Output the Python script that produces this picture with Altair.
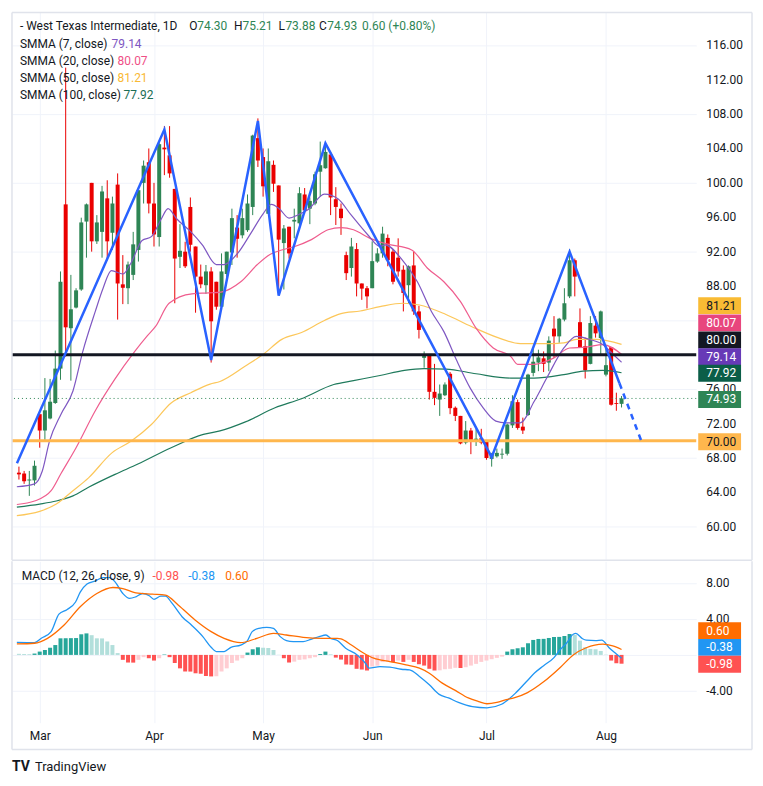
import altair as alt
import pandas as pd

# ---------------- data ----------------
opens = [66.3, 66.2, 65.4, 65.4, 73.1, 71.2, 72.6, 74.4, 78.4, 97.5,
         83.1, 85.5, 87.6, 95.5, 100.0, 93.2, 94.3, 98.2, 94.2, 99.8,
         88.2, 87.75, 89.3, 92.2, 100.0, 102.4, 97.6, 93.7, 104.1, 103.2,
         99.3, 91.4, 92.0, 97.2, 92.6, 89.1, 88.1, 89.7, 88.5, 85.6,
         89.4, 91.9, 94.8, 93.9, 94.5, 97.2, 105.2, 103.0, 96.4, 102.1,
         99.7, 93.0, 94.9, 95.5, 95.3, 98.65, 97.0, 97.6, 101.3, 101.7,
         103.3, 98.1, 97.0, 91.6, 90.1, 92.3, 88.3, 87.75, 87.75, 90.85,
         91.8, 93.6, 92.0, 91.3, 89.9, 88.1, 90.4, 85.05, 79.65, 80.0,
         75.7, 74.8, 75.3, 77.8, 73.85, 72.9, 69.8, 71.2, 70.1, 70.3,
         69.9, 67.9, 68.2, 68.4, 68.5, 71.8, 74.5, 71.65, 73.0, 77.9,
         79.1, 79.6, 79.1, 83.05, 82.15, 84.1, 86.8, 91.0, 83.8, 81.0,
         78.95, 83.4, 81.95, 77.7, 80.9, 74.4, 74.30]
highs = [67.0, 66.5, 66.5, 67.7, 73.1, 77.3, 77.2, 80.5, 89.7, 113.4,
         89.3, 87.75, 95.95, 97.6, 100.0, 96.25, 99.65, 100.3, 98.4, 101.1,
         91.6, 90.85, 94.3, 99.3, 102.6, 104.0, 100.0, 104.7, 106.6, 106.6,
         99.3, 95.2, 93.15, 98.3, 92.6, 90.5, 90.45, 90.2, 88.5, 91.8,
         92.0, 97.0, 96.25, 97.0, 98.65, 105.6, 107.5, 104.0, 104.0, 102.6,
         99.7, 95.1, 94.9, 97.0, 99.5, 99.4, 98.3, 101.3, 104.8, 104.75,
         103.6, 99.5, 97.6, 92.0, 93.6, 93.0, 88.3, 88.0, 93.2, 92.4,
         94.9, 94.0, 92.3, 93.55, 90.4, 90.4, 92.0, 85.7, 80.4, 80.0,
         78.95, 76.55, 76.8, 78.0, 74.0, 72.9, 72.3, 71.5, 71.35, 71.4,
         70.0, 68.6, 69.1, 69.1, 72.0, 75.3, 74.8, 72.7, 77.8, 80.7,
         80.6, 80.4, 82.15, 84.5, 84.3, 87.75, 92.3, 91.2, 85.4, 82.0,
         84.5, 84.5, 85.15, 80.7, 80.9, 75.6, 75.21]
lows = [65.5, 65.0, 63.6, 64.8, 69.2, 70.1, 72.5, 74.3, 77.1, 79.8,
        77.0, 85.4, 87.45, 91.3, 92.0, 92.9, 91.3, 91.0, 92.2, 84.1,
        85.9, 85.9, 88.7, 90.85, 97.6, 96.45, 92.6, 92.6, 100.9, 100.6,
        86.0, 90.1, 90.1, 92.0, 84.9, 87.75, 87.1, 79.1, 85.25, 85.25,
        88.9, 90.45, 91.3, 93.55, 94.3, 96.25, 101.85, 98.4, 96.4, 98.95,
        87.0, 87.6, 91.2, 93.55, 95.1, 96.45, 95.2, 97.4, 98.4, 101.65,
        96.25, 95.1, 93.95, 88.7, 89.1, 86.8, 86.4, 85.4, 87.75, 90.7,
        91.3, 90.3, 88.2, 89.1, 85.05, 86.0, 84.65, 81.9, 78.5, 74.8,
        74.15, 72.9, 75.2, 73.1, 72.3, 69.6, 69.6, 68.45, 69.4, 69.6,
        67.8, 67.0, 68.05, 67.9, 68.3, 71.5, 71.3, 70.8, 72.9, 77.5,
        78.1, 78.0, 78.1, 79.65, 81.4, 83.9, 86.6, 86.8, 80.8, 77.25,
        78.9, 82.0, 80.0, 77.5, 74.1, 73.5, 73.88]
closes = [66.1, 65.3, 65.5, 67.1, 71.2, 73.55, 74.55, 78.4, 88.5, 83.2,
          85.3, 87.5, 95.4, 97.5, 93.2, 95.4, 99.0, 93.2, 97.6, 88.3,
          87.8, 90.5, 92.85, 99.15, 102.0, 97.6, 94.0, 104.5, 103.9, 101.1,
          91.2, 92.1, 90.3, 92.8, 89.1, 88.2, 89.7, 83.9, 85.6, 89.7,
          92.0, 95.9, 93.5, 95.9, 97.6, 105.5, 102.6, 99.6, 102.5, 99.9,
          93.4, 94.7, 91.8, 95.7, 98.8, 96.8, 97.9, 101.0, 102.05, 103.6,
          98.3, 97.2, 95.9, 89.5, 92.6, 88.3, 87.7, 86.8, 90.9, 91.8,
          94.1, 91.0, 88.5, 89.7, 87.2, 90.3, 85.05, 82.9, 80.0, 75.7,
          75.0, 75.5, 76.55, 73.8, 72.9, 69.7, 71.2, 70.1, 70.25, 69.8,
          68.0, 68.4, 68.6, 68.5, 71.9, 74.6, 71.5, 71.2, 77.7, 79.2,
          79.7, 78.95, 81.65, 82.15, 84.2, 86.0, 91.0, 89.1, 80.9, 78.2,
          83.7, 82.5, 85.05, 78.8, 74.2, 74.3, 74.93]

smma7 = [(-0.4, 64.66), (3.0, 65.0), (4.5, 66.5), (5.9, 70.0), (8.1, 73.1), (10.4, 75.8),
         (12.3, 80.4), (14.7, 85.05), (16.2, 87.75), (17.8, 89.8), (20.0, 89.4), (21.5, 90.6),
         (23.7, 93.3), (25.5, 93.75), (27.4, 95.8), (28.7, 97.0), (30.4, 95.8), (33.1, 94.3),
         (35.3, 92.8), (38.0, 90.5), (39.5, 90.5), (42.1, 91.8), (44.6, 94.1), (47.0, 96.4),
         (48.6, 97.5), (50.1, 97.0), (52.0, 95.9), (53.8, 96.3), (55.7, 96.9), (58.8, 98.7),
         (61.4, 98.15), (63.9, 96.3), (67.1, 94.0), (69.5, 92.6), (70.5, 92.8), (73.7, 91.1),
         (76.7, 88.5), (79.4, 85.05), (81.8, 82.7), (84.3, 79.3), (86.9, 76.1), (89.4, 73.8),
         (91.8, 72.3), (93.7, 72.1), (96.5, 72.1), (99.2, 74.6), (101.6, 77.3), (104.9, 80.8),
         (107.3, 82.15), (109.8, 81.8), (112.4, 81.2), (114.3, 80.1), (116, 79.14)]
smma20 = [(-0.4, 62.6), (3.0, 63.0), (6.2, 64.2), (8.1, 66.2), (11.0, 69.2), (14.7, 73.5),
          (18.5, 77.2), (22.3, 80.4), (24.7, 82.2), (26.3, 83.3), (28.9, 86.0), (33.3, 87.1),
          (36.5, 87.2), (38.9, 87.3), (42.7, 88.5), (45.9, 90.5), (48.4, 91.7), (50.6, 92.2),
          (53.1, 92.6), (56.3, 93.4), (59.5, 94.55), (62.0, 94.8), (64.4, 94.55), (67.6, 93.55),
          (70.8, 92.9), (75.6, 92.2), (78.6, 90.1), (81.8, 88.5), (85.0, 86.2), (88.0, 83.1),
          (91.3, 80.8), (94.7, 79.8), (96.0, 78.9), (99.2, 78.9), (103.0, 79.65), (106.0, 80.8),
          (109.2, 80.9), (112.4, 81.2), (116, 80.07)]
smma50 = [(-0.4, 61.3), (4.0, 61.8), (7.2, 62.65), (10.4, 64.2), (13.4, 65.7), (17.9, 68.6),
          (21.7, 70.0), (25.5, 71.9), (29.3, 74.4), (33.1, 75.6), (36.8, 76.6), (38.7, 76.9),
          (43.6, 78.7), (46.9, 80.0), (50.6, 81.8), (54.4, 82.6), (58.8, 84.0), (62.0, 84.8),
          (65.7, 85.1), (69.5, 85.6), (73.9, 86.0), (77.1, 85.8), (82.2, 84.7), (87.1, 83.3),
          (92.2, 82.0), (96.5, 81.3), (101.1, 81.3), (104.9, 81.4), (107.3, 81.8), (111.1, 81.8),
          (116, 81.21)]
smma100 = [(-0.4, 62.3), (4.0, 62.65), (7.2, 63.0), (10.4, 63.6), (13.4, 64.6), (18.5, 66.1),
           (22.9, 67.3), (29.3, 69.2), (35.5, 70.75), (38.7, 71.15), (43.6, 72.2), (49.3, 73.85),
           (54.4, 74.9), (60.6, 76.55), (64.4, 77.0), (69.5, 77.6), (74.2, 78.2), (78.0, 78.4),
           (82.2, 78.35), (88.0, 77.8), (94.7, 77.3), (99.2, 77.3), (104.9, 77.7), (108.6, 78.1),
           (112.4, 78.2), (116, 77.92)]

zigzag_solid = [(-0.38, 67.4), (28, 106.2), (37, 79.4), (46, 107.2), (50, 86.9),
                (59, 104.6), (91, 68.1), (106, 92.0), (115.6, 76.7)]
zigzag_dash = [(115.6, 76.7), (119.8, 70.0)]

hist = [0.12, 0.1, 0.08, 0.15, 0.37, 0.55, 0.8, 1.1, 1.85, 1.86,
        1.87, 1.88, 2.3, 2.4, 2.2, 1.85, 1.84, 1.5, 1.1, 0.2,
        -0.55, -0.85, -0.86, -0.55, -0.25, -0.37, -0.63, -0.37, 0.05, -0.25,
        -0.9, -1.5, -1.85, -1.86, -2.05, -2.1, -2.35, -2.4, -2.38, -1.85,
        -1.5, -0.9, -0.63, -0.37, 0.26, 0.63, 0.85, 0.8, 0.78, 0.55,
        0.02, -0.37, -0.85, -0.75, -0.55, -0.5, -0.37, -0.25, 0.1, 0.37,
        0.07, -0.3, -0.52, -1.07, -1.1, -1.55, -1.63, -1.74, -1.3, -1.2,
        -0.8, -0.74, -0.8, -0.63, -0.78, -0.55, -0.78, -1.04, -1.19, -1.55,
        -1.74, -1.72, -1.6, -1.55, -1.44, -1.46, -1.37, -1.19, -1.0, -0.78,
        -0.63, -0.48, -0.33, -0.19, 0.37, 0.63, 0.74, 0.85, 1.3, 1.67,
        1.78, 1.79, 1.89, 2.0, 2.01, 2.11, 2.33, 2.22, 1.59, 0.85,
        0.67, 0.63, 0.44, 0.03, -0.63, -0.93, -0.98]

macd_line = [(-0.4, 1.4), (3, 1.37), (4.3, 1.85), (6.2, 2.6), (7.7, 4.55), (9.3, 5.07),
             (10.9, 5.9), (11.8, 7.0), (13.1, 7.9), (14.7, 8.26), (16.2, 8.63), (17.5, 8.63),
             (18.5, 8.15), (20, 6.85), (21.3, 6.3), (22.5, 6.48), (23.8, 6.85), (25.1, 6.6),
             (26, 6.2), (27.3, 6.55), (28.2, 6.55), (29.5, 5.74), (31.4, 4.26), (33.2, 3.33),
             (35.4, 2.04), (37, 0.85), (38, 0.37), (39.5, 0.37), (40.8, 0.85), (42.7, 1.1),
             (44, 1.6), (44.9, 2.6), (46.2, 2.96), (47.7, 3.07), (49, 2.96), (50.3, 2.04),
             (51.5, 1.6), (52.8, 1.48), (54.7, 1.48), (56.2, 1.74), (57.8, 2.04), (59.1, 2.22),
             (60, 1.85), (61.3, 1.6), (62.9, 0.74), (65.1, 0.0), (66.7, -0.93), (67.4, -1.48),
             (69.5, -1.3), (71.4, -1.37), (73.6, -1.6), (75.2, -1.67), (77.1, -2.4), (79, -3.33),
             (80.9, -4.4), (82.7, -4.8), (84.6, -5.3), (87.3, -5.77), (90.1, -5.9), (92.9, -5.5),
             (95.7, -4.2), (97.9, -2.85), (99.3, -2.0), (101, -1.2), (103, -0.3), (104.2, 0.6),
             (105.4, 1.3), (106.7, 2.3), (107.2, 2.4), (108.5, 1.8), (109.2, 1.65), (111, 1.6),
             (112.2, 1.65), (113.6, 0.8), (115, 0.1), (116, -0.38)]
signal_line = [(-0.4, 1.22), (3, 1.3), (5.5, 1.85), (8.7, 3.33), (11.8, 5.37), (15, 6.85),
               (18.1, 7.52), (20, 7.4), (22.5, 6.93), (25.7, 6.78), (28.2, 6.67), (30.7, 5.55),
               (33.9, 3.9), (37, 2.6), (39.5, 1.85), (42.7, 1.37), (45.8, 1.85), (49, 2.4),
               (51.5, 2.22), (54.7, 1.96), (58.4, 1.85), (61.3, 1.85), (62, 1.78), (64, 1.1),
               (66.4, 0.19), (68.3, -0.37), (71.4, -0.74), (74.5, -1.1), (77.1, -1.48), (79, -2.04),
               (81.5, -3.15), (84, -3.96), (86.5, -4.8), (88.5, -5.2), (90.1, -5.45), (92, -5.3),
               (93.8, -5.0), (95.3, -4.8), (97.9, -4.2), (101, -3.0), (104.2, -1.4), (106.7, 0.0),
               (109.2, 0.8), (112.4, 1.2), (114.3, 1.0), (116, 0.6)]

month_idx = [4, 26, 47, 68, 90, 113]
month_names = ["Mar", "Apr", "May", "Jun", "Jul", "Aug"]
price_ticks = list(range(60, 117, 4))
price_hidden = [80, 84]          # tick labels covered by the coloured price tags
macd_ticks = [-4, 0, 4, 8]

last_price = 74.93
level_black = 80.0
level_orange = 70.0

# price-scale labels (value, background, text colour, vertical shift in px)
price_labels = [(81.21, "#f9bb34", "#131722", -39),
                (80.07, "#e8467d", "#ffffff", -31.5),
                (80.00, "#131722", "#ffffff", -15),
                (79.14, "#673ab7", "#ffffff", -5.5),
                (77.92, "#0b5e48", "#ffffff", 0.5),
                (74.93, "#2e8555", "#ffffff", 1),
                (70.00, "#ffb74d", "#131722", 1)]
macd_labels = [(0.60, "#ff6d00", "#ffffff", -19),
               (-0.38, "#2196f3", "#ffffff", -11),
               (-0.98, "#ff5252", "#ffffff", 0.5)]

# ---------------- styling ----------------
FONT = "Roboto"
GREEN = "#2e8555"
RED = "#ea0000"
GRID = "#f0f3fa"
FRAME = "#e0e3eb"
TXT = "#131722"
W, HM, HD = 687, 549, 162
xs = alt.Scale(domain=[-0.378, 129.42], nice=False, zero=False)
ys = alt.Scale(domain=[56.22, 119.81], nice=False, zero=False)
ms = alt.Scale(domain=[-7.56, 10.44], nice=False, zero=False)
BOX = "M-1,-0.3953L1,-0.3953L1,0.3953L-1,0.3953Z"
one = pd.DataFrame({"k": [0]})


def pts(pairs):
    return pd.DataFrame({"i": [p[0] for p in pairs], "v": [p[1] for p in pairs]})


def txt(s, x, y, color, size=12, weight="normal"):
    return alt.Chart(one).mark_text(text=s, align="left", baseline="middle", font=FONT,
                                    fontSize=size, fontWeight=weight, color=color).encode(
        x=alt.value(x), y=alt.value(y))


def hrule(x1, x2, y):
    return alt.Chart(one).mark_rule(color=FRAME, strokeWidth=1.5).encode(
        x=alt.value(x1), x2=alt.value(x2), y=alt.value(y))


def vrule(x, y1, y2):
    return alt.Chart(one).mark_rule(color=FRAME, strokeWidth=1.5).encode(
        x=alt.value(x), y=alt.value(y1), y2=alt.value(y2))


def tick_labels(values, hidden):
    shown = [v for v in values if v not in hidden]
    d = pd.DataFrame({"v": shown, "t": [f"{v:.2f}" for v in shown]})
    return alt.Chart(d).mark_text(align="left", baseline="middle", font=FONT, fontSize=12,
                                  color=TXT).encode(x=alt.value(697), y="v:Q", text="t:N")


def tag_layers(labels):
    layers = []
    for val, bg, fg, dy in labels:
        d = pd.DataFrame({"v": [val], "t": [f"{val:.2f}"]})
        layers.append(alt.Chart(d).mark_point(shape=BOX, size=1849, filled=True, fill=bg,
                                               strokeWidth=0, opacity=1, yOffset=dy)
                      .encode(x=alt.value(710.5), y="v:Q"))
        layers.append(alt.Chart(d).mark_text(align="left", baseline="middle", font=FONT,
                                              fontSize=12, color=fg, yOffset=dy)
                      .encode(x=alt.value(697), y="v:Q", text="t:N"))
    return layers


# ---------------- main panel ----------------
n = len(closes)
cdf = pd.DataFrame({"i": list(range(n)), "o": opens, "h": highs, "l": lows, "c": closes})
cdf["dir"] = ["up" if c >= o else "down" for o, c in zip(opens, closes)]
dir_color = alt.Color("dir:N", scale=alt.Scale(domain=["up", "down"], range=[GREEN, RED]), legend=None)

price_axis = alt.Axis(orient="right", values=price_ticks, labels=False,
                      grid=True, gridColor=GRID, ticks=False, domain=False, title=None, zindex=0)
top_x_axis = alt.Axis(values=month_idx, labels=False, ticks=False, domain=False, grid=True,
                      gridColor=GRID, title=None, zindex=0)

wick = alt.Chart(cdf).mark_rule(strokeWidth=1).encode(
    x=alt.X("i:Q", scale=xs, axis=top_x_axis),
    y=alt.Y("l:Q", scale=ys, axis=price_axis),
    y2="h:Q", color=dir_color)
body = alt.Chart(cdf).mark_bar(size=4).encode(x="i:Q", y="o:Q", y2="c:Q", color=dir_color)


def line_layer(pairs, color, width=1.2):
    return alt.Chart(pts(pairs)).mark_line(color=color, strokeWidth=width,
                                           interpolate="monotone").encode(x="i:Q", y="v:Q")


lines = [line_layer(smma100, "#1f7a5c"), line_layer(smma50, "#fcc75a"),
         line_layer(smma20, "#ef5d8e"), line_layer(smma7, "#7e57c2")]


def level(v, color, width, dash=None):
    kw = dict(color=color, strokeWidth=width)
    if dash:
        kw["strokeDash"] = dash
    return alt.Chart(pd.DataFrame({"v": [v]})).mark_rule(**kw).encode(y="v:Q")


lvl_orange = level(level_orange, "#ffb74d", 3)
lvl_black = level(level_black, "#131722", 3)
lvl_last = level(last_price, GREEN, 1, [1, 3])

zz = alt.Chart(pts(zigzag_solid)).mark_line(color="#2962ff", strokeWidth=2.5).encode(x="i:Q", y="v:Q")
zzd = alt.Chart(pts(zigzag_dash)).mark_line(color="#2962ff", strokeWidth=2.5, strokeDash=[6, 5]).encode(
    x="i:Q", y="v:Q")

G = "#2e8555"
title_layers = [
    txt("- West Texas Intermediate, 1D", 8, 14, TXT),
    txt("O", 178, 14, TXT), txt("74.30", 186, 14, G),
    txt("H", 223, 14, TXT), txt("75.21", 231.5, 14, G),
    txt("L", 267.5, 14, TXT), txt("73.88", 274.5, 14, G),
    txt("C", 308.3, 14, TXT), txt("74.93", 316.5, 14, G),
    txt("0.60 (+0.80%)", 351.5, 14, G),
    txt("SMMA (7, close)", 8, 32, TXT), txt("79.14", 100, 32, "#7e57c2"),
    txt("SMMA (20, close)", 8, 49, TXT), txt("80.07", 106, 49, "#ef4f86"),
    txt("SMMA (50, close)", 8, 66, TXT), txt("81.21", 106, 66, "#f9b934"),
    txt("SMMA (100, close)", 8, 83, TXT), txt("77.92", 112, 83, "#1b6e55"),
]
frame_top = [hrule(0, 743, 0), vrule(0, 0, 550), vrule(743, 0, 550), hrule(0, 743, 550)]

top = alt.layer(wick, body, *lines, lvl_orange, lvl_black, lvl_last, zz, zzd,
                tick_labels(price_ticks, price_hidden),
                *tag_layers(price_labels), *title_layers, *frame_top).properties(width=W, height=HM)

# ---------------- MACD panel ----------------
hc = []
for k, h in enumerate(hist):
    prev = hist[k - 1] if k > 0 else h
    if h >= 0:
        hc.append("ps" if h > prev else "pw")
    else:
        hc.append("ns" if h < prev else "nw")
hdf = pd.DataFrame({"i": list(range(len(hist))), "h": hist, "z": [0] * len(hist), "hc": hc})

macd_y_axis = alt.Axis(orient="right", values=macd_ticks, labels=False,
                       grid=True, gridColor=GRID, ticks=False, domain=False, title=None, zindex=0)
macd_x_axis = alt.Axis(values=month_idx,
                       labelExpr="['Mar','Apr','May','Jun','Jul','Aug'][indexof([4,26,47,68,90,113], datum.value)]",
                       grid=True, gridColor=GRID, ticks=False, domain=False, labelPadding=8,
                       title=None, labelFont=FONT, labelFontSize=12, labelColor=TXT,
                       labelOverlap=False, labelFlush=False, zindex=0)

hbars = alt.Chart(hdf).mark_bar(size=4).encode(
    x=alt.X("i:Q", scale=xs, axis=macd_x_axis),
    y=alt.Y("h:Q", scale=ms, axis=macd_y_axis),
    y2="z:Q",
    color=alt.Color("hc:N", scale=alt.Scale(domain=["ps", "pw", "ns", "nw"],
                                            range=["#26a69a", "#b2dfdb", "#ff5252", "#ffcdd2"]),
                    legend=None))
mline = line_layer(macd_line, "#2196f3", 1.3)
sline = line_layer(signal_line, "#ff6d00", 1.3)

macd_text = [txt("MACD (12, 26, close, 9)", 9.7, 15, TXT), txt("-0.98", 141, 15, "#ff5252"),
             txt("-0.38", 177, 15, "#2196f3"), txt("0.60", 214, 15, "#ff6d00")]
brand = [txt("TV", 0, 207, TXT, 14, "bold"), txt("TradingView", 23, 207, TXT, 13)]
frame_bot = [vrule(0, 0, 189), vrule(743, 0, 189), hrule(0, 743, 189)]

bottom = alt.layer(hbars, mline, sline, tick_labels(macd_ticks, [0]),
                   *tag_layers(macd_labels), *macd_text, *brand, *frame_bot).properties(width=W, height=HD)

chart = alt.vconcat(top, bottom, spacing=2, bounds="flush").resolve_scale(
    color="independent"
).properties(
    padding={"left": 2, "top": 2, "right": 2, "bottom": 2}, background="white"
).configure_view(strokeWidth=0).configure_axis(labelOverlap=False)

chart.save("out.html", embed_options={"renderer": "svg", "actions": False})
